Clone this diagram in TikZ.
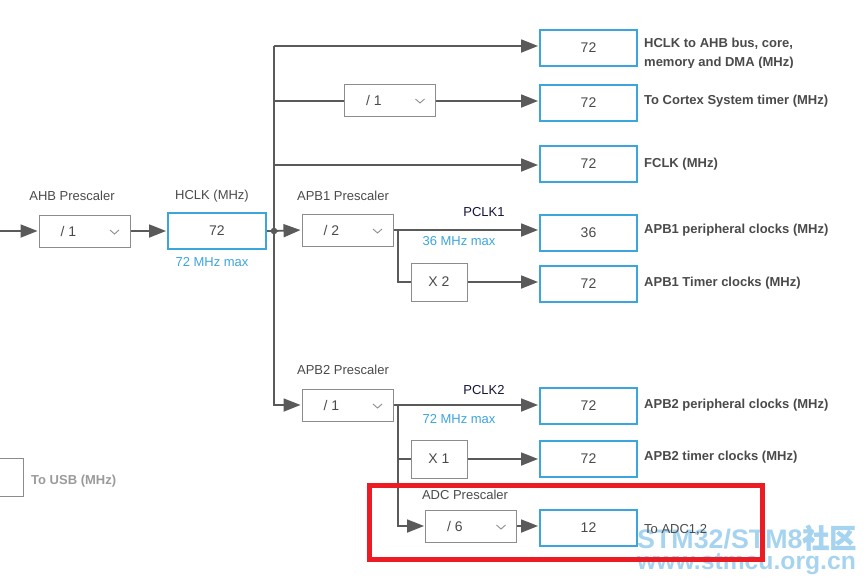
\documentclass[tikz,border=0pt]{standalone}
\usepackage{fontspec}
\setmainfont{Liberation Sans}
\newfontfamily\cjkfont{Noto Sans CJK SC}[FakeBold=2]
\usetikzlibrary{arrows.meta}
\definecolor{cblue}{HTML}{3CA5DC}
\definecolor{lgray}{HTML}{5A5A5A}
\definecolor{bgray}{HTML}{8C8C8C}
\definecolor{tgray}{HTML}{4A4A4A}
\definecolor{ugray}{HTML}{9A9A9A}
\definecolor{navy}{HTML}{14143C}
\definecolor{wm}{HTML}{A6D4F0}
\definecolor{cred}{HTML}{EC1C24}
\newcommand\ddown[4]{%
  \node[presc] (#1) at (#2,#3) {};
  \node[ddtext] at ([xshift=-16pt]#1.center) {#4};
  \draw[chev] ([xshift=25.5pt,yshift=1pt]#1.center) -- ++(4.5,4) -- ++(4.5,-4);}
\begin{document}
\begin{tikzpicture}[x=1pt,y=-1pt,
  valbox/.style={draw=cblue, line width=2pt, minimum width=97pt, minimum height=36pt, inner sep=0pt, font=\fontsize{14}{14}\selectfont, text=tgray},
  presc/.style={draw=bgray, line width=1pt, minimum width=91pt, minimum height=32pt, inner sep=0pt},
  multbox/.style={draw=bgray, line width=1pt, minimum width=56pt, minimum height=38pt, inner sep=0pt, font=\fontsize{14}{14}\selectfont, text=tgray},
  ddtext/.style={inner sep=0pt, font=\fontsize{14}{14}\selectfont, text=tgray},
  chev/.style={draw=bgray, line width=0.9pt},
  lbl/.style={inner sep=0pt, font=\fontsize{13}{13}\selectfont, text=tgray},
  blbl/.style={inner sep=0pt, anchor=base west, font=\bfseries\fontsize{13}{13}\selectfont, text=tgray},
  bluet/.style={inner sep=0pt, font=\fontsize{13}{13}\selectfont, text=cblue},
  navyt/.style={inner sep=0pt, font=\fontsize{13}{13}\selectfont, text=navy},
  wire/.style={draw=lgray, line width=1.8pt},
  arr/.style={wire, -{Triangle[length=17pt,width=13pt]}, shorten >=1pt},
  wmt/.style={inner sep=0pt, anchor=base west, text=wm, font=\bfseries\fontsize{26.8}{27}\selectfont},
  wmt2/.style={inner sep=0pt, anchor=base west, text=wm, font=\bfseries\fontsize{24.7}{25}\selectfont}]
\useasboundingbox (0,0) rectangle (868,584);

% watermark (behind)
\node[wmt] (wm1) at (637,548) {STM32/STM8{\cjkfont 社区}};
\node[wmt2] (wm2) at (637,569) {www.stmcu.org.cn};

% value boxes
\node[valbox] (v1) at (588.5,48) {72};
\node[valbox] (v2) at (588.5,103) {72};
\node[valbox] (v3) at (588.5,164) {72};
\node[valbox] (v4) at (588.5,233) {36};
\node[valbox] (v5) at (588.5,284) {72};
\node[valbox] (v6) at (588.5,406) {72};
\node[valbox] (v7) at (588.5,459) {72};
\node[valbox] (v8) at (588.5,528) {12};
\node[valbox, minimum width=98pt] (hclk) at (217,231) {72};

% dropdowns
\ddown{ahb}{84.5}{231}{/ 1}
\ddown{cortex}{390}{100}{/ 1}
\ddown{apb1}{347.5}{230}{/ 2}
\ddown{apb2}{347.5}{405}{/ 1}
\ddown{adc}{471}{526}{/ 6}

% multipliers
\node[multbox] (x2) at (439,282) {X 2};
\node[multbox] (x1) at (439,459) {X 1};

% usb box
\node[draw=bgray, line width=1pt, minimum width=40pt, minimum height=38pt, inner sep=0pt] (usb) at (3,477.5) {};
\node[inner sep=0pt, anchor=base west, font=\bfseries\fontsize{13}{13}\selectfont, text=ugray] (tusb) at (31,484) {To USB (MHz)};

% wires
\coordinate (in) at (0,231);
\draw[arr] (in) -- (ahb.west);
\draw[arr] (ahb.east) -- (hclk.west);
\coordinate (j) at (274,231);
\draw[wire] (hclk.east) -- (j);
\draw[arr] (j) -- (apb1.west);
\fill[lgray] (j) circle (3.3pt);
\coordinate (bt) at (274,46);
\coordinate (bb) at (274,405);
\draw[arr] (bt) -- (bb) -- (apb2.west);
\draw[arr] (bt) -- (bt -| v1.west);
\coordinate (b2) at (274,101);
\draw[wire] (b2) -- (b2 -| cortex.west);
\draw[arr] (b2 -| cortex.east) -- (b2 -| v2.west);
\coordinate (b3) at (274,165);
\draw[arr] (b3) -- (b3 -| v3.west);

\coordinate (p1) at (398,230);
\draw[arr] (apb1.east) -- (apb1.east -| v4.west);
\draw[wire] (p1) -- (p1 |- x2) -- (x2.west);
\draw[arr] (x2.east) -- (x2.east -| v5.west);

\coordinate (p2) at (398,405);
\draw[arr] (apb2.east) -- (apb2.east -| v6.west);
\draw[wire] (p2 |- x1) -- (x1.west);
\draw[arr] (p2) -- (p2 |- adc) -- (adc.west);
\draw[arr] (x1.east) -- (x1.east -| v7.west);
\draw[arr] (adc.east) -- (adc.east -| v8.west);

% labels
\node[lbl] (tahb) at (72,196) {AHB Prescaler};
\node[lbl] (thclk) at (212,196) {HCLK (MHz)};
\node[bluet] (thmax) at (212,262) {72 MHz max};
\node[lbl] (tapb1) at (343,196) {APB1 Prescaler};
\node[navyt] (tpclk1) at (484,212) {PCLK1};
\node[bluet] (tp1max) at (459,241) {36 MHz max};
\node[lbl] (tapb2) at (343,370) {APB2 Prescaler};
\node[navyt] (tpclk2) at (484,390) {PCLK2};
\node[bluet] (tp2max) at (459,419) {72 MHz max};
\node[lbl] (tadc) at (465,495) {ADC Prescaler};

\node[blbl] (r1) at (644,47.5) {HCLK to AHB bus, core,};
\begin{scope}
\clip (640,20) rectangle (868,67.5);
\node[blbl] (r1b) at (644,66.5) {memory and DMA (MHz)};
\end{scope}
\node[blbl] (r2) at (644,104.5) {To Cortex System timer (MHz)};
\node[blbl] (r3) at (644,167.5) {FCLK (MHz)};
\node[blbl] (r4) at (644,233.5) {APB1 peripheral clocks (MHz)};
\node[blbl] (r5) at (644,286.5) {APB1 Timer clocks (MHz)};
\node[blbl] (r6) at (644,408.5) {APB2 peripheral clocks (MHz)};
\node[blbl] (r7) at (644,460.5) {APB2 timer clocks (MHz)};
\node[blbl, font=\fontsize{13}{13}\selectfont] (r8) at (644,533.5) {To ADC1,2};

% red highlight
\draw[cred, line width=5pt] (369.5,485.5) rectangle (762.5,559.5);
\end{tikzpicture}
\end{document}
